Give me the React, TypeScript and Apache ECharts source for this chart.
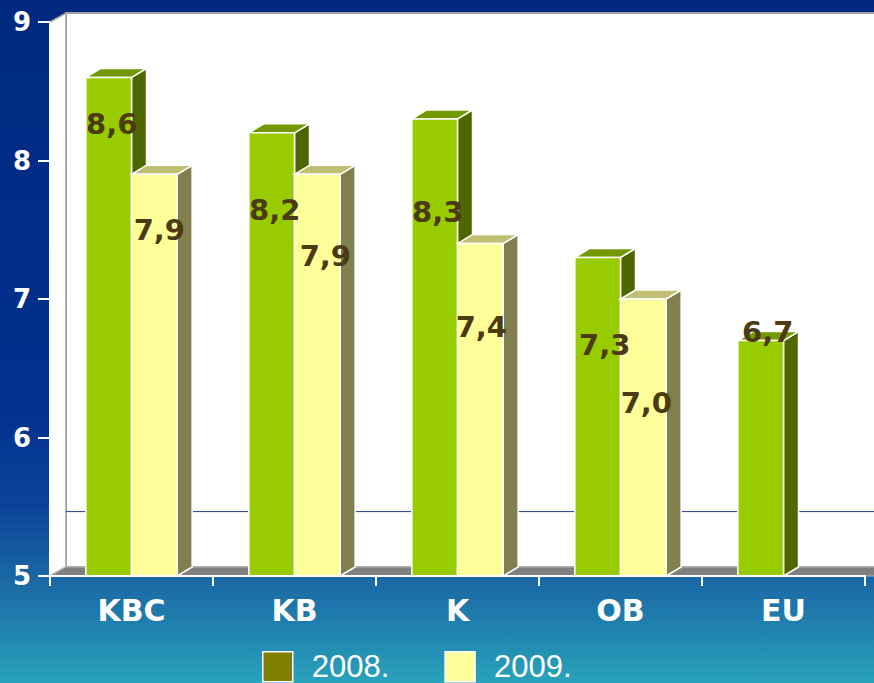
import React, { useEffect, useRef } from "react";
import * as echarts from "echarts";

const CATEGORIES = ["KBC", "KB", "K", "OB", "EU"];
const V2008: (number | null)[] = [8.6, 8.2, 8.3, 7.3, 6.7];
const V2009: (number | null)[] = [7.9, 7.9, 7.4, 7.0, null];
const SERIES_NAMES = ["2008.", "2009."];
const Y_MIN = 5;
const Y_MAX = 9;
const Y_INTERVAL = 1;
const REF_LINE = 5.4;

// layout / style constants (not data)
const DEPTH_X = 15;
const DEPTH_Y = 9;
const WALL_DX = 16;
const WALL_DY = 9;
const BAR_FRAC = 0.28;
const LABEL_DY = [
  [47, 77, 93, 88, -9],
  [56, 82, 83, 104, 0],
];
const LABEL_DX = [
  [3, 3, 3, 7, 7],
  [5, 8, 1, 3, 0],
];
const FACE = [
  { front: "#99CC00", top: "#739900", side: "#4D6600", legend: "#808000" },
  { front: "#FFFF99", top: "#BFBF73", side: "#807F4D", legend: "#FFFF99" },
];

const fmt = (v: number) => v.toFixed(1).replace(".", ",");

function barGeom(si: number, api: any) {
  const idx = api.value(0);
  const v = api.value(1);
  const base = api.coord([idx, Y_MIN]);
  const top = api.coord([idx, v]);
  const band = api.size([1, 0])[0];
  const w = band * BAR_FRAC;
  const x0 = si === 0 ? base[0] - w : base[0];
  return { idx, v, x0, x1: x0 + w, w, yb: base[1], yt: top[1] };
}

function makeBarRender(si: number) {
  return (params: any, api: any) => {
    const v = api.value(1);
    if (v == null || isNaN(v)) return null;
    const { x0, x1, w, yb, yt } = barGeom(si, api);
    const c = FACE[si];
    const edge = { stroke: "#ffffff", lineWidth: 1.5 };
    return {
      type: "group",
      children: [
        {
          type: "polygon",
          shape: { points: [[x1, yb], [x1 + DEPTH_X, yb - DEPTH_Y], [x1 + DEPTH_X, yt - DEPTH_Y], [x1, yt]] },
          style: { fill: c.side, ...edge },
        },
        {
          type: "polygon",
          shape: { points: [[x0, yt], [x0 + DEPTH_X, yt - DEPTH_Y], [x1 + DEPTH_X, yt - DEPTH_Y], [x1, yt]] },
          style: { fill: c.top, ...edge },
        },
        {
          type: "rect",
          shape: { x: x0, y: yt, width: w, height: yb - yt },
          style: { fill: c.front, ...edge },
        },
      ],
    };
  };
}

function makeLabelRender(si: number) {
  return (params: any, api: any) => {
    const v = api.value(1);
    if (v == null || isNaN(v)) return null;
    const { idx, x0, x1, yt } = barGeom(si, api);
    return {
      type: "text",
      x: (x0 + x1) / 2 + LABEL_DX[si][idx],
      y: yt + LABEL_DY[si][idx],
      style: {
        text: fmt(v),
        fill: "#4B3A12",
        font: 'bold 29px "DejaVu Sans"',
        align: "center",
        verticalAlign: "middle",
      },
    };
  };
}

function wallRender(params: any, api: any) {
  const cs = params.coordSys;
  const x = cs.x, y = cs.y, w = cs.width, h = cs.height;
  const refY = api.coord([0, REF_LINE])[1] - WALL_DY;
  return {
    type: "group",
    children: [
      {
        type: "rect",
        shape: { x: x + WALL_DX, y: y - WALL_DY, width: w + 40, height: h },
        style: { fill: "#ffffff", stroke: "#A0A0A0", lineWidth: 2 },
      },
      {
        type: "polygon",
        shape: { points: [[x, y], [x + WALL_DX, y - WALL_DY], [x + WALL_DX, y + h - WALL_DY], [x, y + h]] },
        style: { fill: "#ffffff", stroke: "#A0A0A0", lineWidth: 1.5 },
      },
      {
        type: "polygon",
        shape: { points: [[x, y + h], [x + WALL_DX, y + h - WALL_DY], [x + w + 40, y + h - WALL_DY], [x + w + 40, y + h]] },
        style: { fill: "#808080", stroke: "#B8B8B8", lineWidth: 1 },
      },
      {
        type: "line",
        shape: { x1: x + WALL_DX, y1: refY, x2: x + w + 40, y2: refY },
        style: { stroke: "#1F3F8F", lineWidth: 1 },
      },
    ],
  };
}

export default function App() {
  const ref = useRef<HTMLDivElement>(null);
  useEffect(() => {
    if (!ref.current) return;
    const chart = echarts.init(ref.current, null, { renderer: "svg" });
    const d2008 = CATEGORIES.map((_, i) => [i, V2008[i]]);
    const d2009 = CATEGORIES.map((_, i) => [i, V2009[i]]);
    chart.setOption({
      animation: false,
      backgroundColor: {
        type: "linear",
        x: 0, y: 0, x2: 0, y2: 1,
        colorStops: [
          { offset: 0, color: "#00297F" },
          { offset: 0.6, color: "#01318E" },
          { offset: 0.74, color: "#0C4399" },
          { offset: 0.85, color: "#1B68A5" },
          { offset: 0.93, color: "#2186B1" },
          { offset: 1, color: "#29A3BB" },
        ],
      },
      grid: { left: 50, right: 9, top: 22, bottom: 107, containLabel: false },
      legend: {
        data: SERIES_NAMES,
        left: 262,
        top: 651,
        padding: 0,
        icon: "rect",
        itemWidth: 30,
        itemHeight: 30,
        itemGap: 55,
        itemStyle: { borderColor: "#ffffff", borderWidth: 1.5 },
        textStyle: {
          color: "#ffffff",
          fontFamily: '"Liberation Sans", Arial, sans-serif',
          fontSize: 31,
          padding: [0, 0, 0, 14],
        },
      },
      xAxis: {
        type: "category",
        data: CATEGORIES,
        z: 10,
        axisLine: { lineStyle: { color: "#ffffff", width: 2 } },
        axisTick: { show: true, length: 10, lineStyle: { color: "#ffffff", width: 2 } },
        axisLabel: {
          color: "#ffffff",
          fontFamily: '"DejaVu Sans", sans-serif',
          fontWeight: "bold",
          fontSize: 30,
          margin: 19,
        },
        splitLine: { show: false },
      },
      yAxis: {
        type: "value",
        min: Y_MIN,
        max: Y_MAX,
        interval: Y_INTERVAL,
        z: 10,
        axisLine: { show: true, lineStyle: { color: "#ffffff", width: 2 } },
        axisTick: { show: true, length: 12, lineStyle: { color: "#ffffff", width: 2 } },
        axisLabel: {
          color: "#ffffff",
          fontFamily: '"DejaVu Sans", sans-serif',
          fontWeight: "bold",
          fontSize: 26,
          margin: 19,
        },
        splitLine: { show: false },
      },
      series: [
        {
          type: "custom",
          name: "walls",
          renderItem: wallRender,
          data: [[0, Y_MIN]],
          encode: { x: 0, y: 1 },
          silent: true,
          z: 1,
        },
        {
          type: "custom",
          name: SERIES_NAMES[0],
          renderItem: makeBarRender(0),
          itemStyle: { color: FACE[0].legend },
          data: d2008,
          encode: { x: 0, y: 1 },
          z: 3,
        },
        {
          type: "custom",
          name: SERIES_NAMES[1],
          renderItem: makeBarRender(1),
          itemStyle: { color: FACE[1].legend },
          data: d2009,
          encode: { x: 0, y: 1 },
          z: 4,
        },
        {
          type: "custom",
          name: "labels2008",
          renderItem: makeLabelRender(0),
          data: d2008,
          encode: { x: 0, y: 1 },
          silent: true,
          z: 6,
        },
        {
          type: "custom",
          name: "labels2009",
          renderItem: makeLabelRender(1),
          data: d2009,
          encode: { x: 0, y: 1 },
          silent: true,
          z: 6,
        },
      ],
    });
    return () => chart.dispose();
  }, []);
  return (
    <div
      ref={ref}
      style={{ position: "fixed", left: 0, top: 0, width: 874, height: 683 }}
    />
  );
}
